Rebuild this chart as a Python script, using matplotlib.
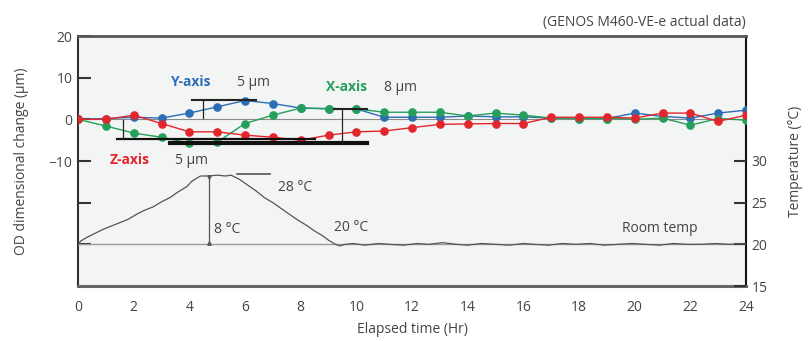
import matplotlib
matplotlib.use("Agg")
import matplotlib.pyplot as plt

plt.rcParams['font.family'] = ['Open Sans', 'DejaVu Sans']

# ---- data ----
hours = list(range(0, 25))
x_axis = [0, -1.6, -3.3, -4.3, -5.7, -5.5, -1.0, 1.0, 2.7, 2.5, 2.5, 1.7, 1.7, 1.7,
          0.8, 1.5, 1.0, 0.3, 0.2, 0.2, 0.0, 0.3, -1.4, 0.2, -0.2]
y_axis = [0, 0.2, 0.5, 0.3, 1.5, 3.0, 4.5, 3.8, 2.7, 2.6, 2.5, 0.5, 0.5, 0.5,
          0.8, 0.6, 0.6, 0.3, 0.2, 0.2, 1.5, 0.7, 0.3, 1.5, 2.2]
z_axis = [0, 0.0, 1.0, -1.0, -3.0, -3.0, -3.8, -4.3, -5.0, -3.8, -3.0, -2.8, -2.0, -1.2,
          -1.1, -1.0, -1.0, 0.5, 0.5, 0.5, 0.3, 1.5, 1.5, -0.5, 1.0]

temp_time = [0, 0.1, 0.3, 0.6, 0.9, 1.2, 1.5, 1.8, 2.1, 2.4, 2.7, 3.0, 3.3, 3.6, 3.9, 4.1,
             4.4, 4.7, 5.0, 5.3, 5.5, 5.8, 6.1, 6.4, 6.7, 7.0, 7.3, 7.6, 7.9, 8.2, 8.5,
             8.8, 9.0, 9.2, 9.4, 9.6, 9.9, 10.3, 10.8, 11.2, 11.7, 12.2, 12.6, 13.1, 13.6,
             14.0, 14.5, 15.0, 15.5, 16.0, 16.4, 16.9, 17.4, 17.9, 18.4, 18.9, 19.4,
             19.9, 20.4, 20.9, 21.4, 21.9, 22.4, 22.9, 23.4, 24.0]
temp_vals = [20.0, 20.4, 20.8, 21.3, 21.8, 22.2, 22.6, 23.0, 23.6, 24.1, 24.5, 25.1, 25.6,
             26.3, 26.9, 27.6, 28.2, 28.2, 28.3, 28.2, 28.3, 27.8, 27.1, 26.4, 25.6, 25.0,
             24.3, 23.6, 22.9, 22.3, 21.6, 21.0, 20.5, 20.1, 19.8, 20.0, 20.1, 19.9, 20.1,
             20.0, 19.9, 20.1, 20.0, 20.2, 20.0, 19.9, 20.1, 20.0, 19.9, 20.1, 20.0, 19.9,
             20.1, 20.0, 20.1, 19.9, 20.0, 20.1, 20.0, 19.9, 20.1, 20.0, 20.0, 20.1, 20.0, 20.1]

x_ticks = list(range(0, 25, 2))
left_ticks = [20, 10, 0, -10, -20, -30]
left_labels = ['20', '10', '0', '\u221210', '', '']
right_ticks = [15, 20, 25, 30]

c_blue = '#2c6db6'
c_green = '#24a05a'
c_red = '#e2262c'
c_text = '#444444'

fig = plt.figure(figsize=(8.08, 3.41), dpi=100)
fig.patch.set_facecolor('white')
ax = fig.add_axes([78 / 808, 1 - 286 / 341, (746 - 78) / 808, (286 - 36) / 341])
ax.set_facecolor('#f3f4f4')
ax.set_xlim(0, 24)
ax.set_ylim(-40, 20)

# reference lines
ax.axhline(0, color='#8a8a8a', lw=0.8, zorder=1)

ms = 5.2
ax.plot(hours, y_axis, '-o', color=c_blue, lw=1.0, ms=ms, zorder=3)
ax.plot(hours, x_axis, '-o', color=c_green, lw=1.0, ms=ms, zorder=3)
ax.plot(hours, z_axis, '-o', color=c_red, lw=1.0, ms=ms, zorder=3)

# range bars
ax.plot([4.1, 6.4], [4.6, 4.6], color='#222222', lw=1.5, zorder=4)
ax.plot([4.5, 4.5], [4.6, 0.3], color='#222222', lw=0.9, zorder=4)
ax.plot([1.4, 8.5], [-4.6, -4.6], color='#111111', lw=1.6, zorder=4)
ax.plot([1.6, 1.6], [-0.2, -4.6], color='#222222', lw=0.9, zorder=4)
ax.plot([3.3, 10.4], [-5.6, -5.6], color='#111111', lw=3.0, zorder=4)
ax.plot([9.2, 10.4], [2.6, 2.6], color='#222222', lw=1.5, zorder=4)
ax.plot([9.5, 9.5], [2.6, -5.6], color='#222222', lw=0.9, zorder=4)

ax.set_xticks(x_ticks)
ax.set_yticks(left_ticks)
ax.set_yticklabels(left_labels)
ax.tick_params(axis='y', direction='in', length=9, width=1.5, colors='#333333',
               labelsize=10, labelcolor=c_text, pad=4)
ax.tick_params(axis='x', length=0, labelsize=10, labelcolor=c_text, pad=10)
ax.set_xlabel('Elapsed time (Hr)', fontsize=10, color=c_text, labelpad=5)
ax.set_ylabel('OD dimensional change (\u00b5m)', fontsize=10, color=c_text, labelpad=14)

for side, col, lw in [('top', '#555555', 2.0), ('bottom', '#666666', 2.2),
                      ('left', '#333333', 1.5), ('right', '#111111', 1.5)]:
    ax.spines[side].set_color(col)
    ax.spines[side].set_linewidth(lw)

# temperature axis
ax2 = ax.twinx()
ax2.set_ylim(15, 45)
ax2.axhline(20, color='#9a9a9a', lw=1.0, zorder=1)
ax2.plot(temp_time, temp_vals, color='#555555', lw=0.9, zorder=2)
ax2.plot([5.7, 6.9], [28.4, 28.4], color='#555555', lw=1.2)
ax2.plot([4.7, 4.7], [28.2, 20.0], color='#555555', lw=0.9)
ax2.plot([4.7], [28.1], marker='v', color='#555555', ms=2.5)
ax2.plot([4.7], [20.1], marker='^', color='#555555', ms=2.5)
ax2.set_yticks(right_ticks)
ax2.tick_params(axis='y', direction='in', length=9, width=1.5, colors='#333333',
                labelsize=10, labelcolor=c_text, pad=4)
ax2.set_ylabel('Temperature (\u00b0C)', fontsize=10, color=c_text, labelpad=15)
for s in ax2.spines.values():
    s.set_visible(False)

# annotations
ax.text(3.3, 8.9, 'Y-axis', color=c_blue, fontsize=10, fontweight='bold', va='center')
ax.text(5.7, 8.9, '5 \u00b5m', color=c_text, fontsize=10, va='center')
ax.text(8.9, 7.7, 'X-axis', color=c_green, fontsize=10, fontweight='bold', va='center')
ax.text(11.0, 7.7, '8 \u00b5m', color=c_text, fontsize=10, va='center')
ax.text(1.15, -9.8, 'Z-axis', color=c_red, fontsize=10, fontweight='bold', va='center')
ax.text(3.5, -9.8, '5 \u00b5m', color=c_text, fontsize=10, va='center')
ax2.text(7.2, 26.8, '28 \u00b0C', color=c_text, fontsize=10, va='center')
ax2.text(4.9, 21.8, '8 \u00b0C', color=c_text, fontsize=10, va='center')
ax2.text(9.2, 22.0, '20 \u00b0C', color=c_text, fontsize=10, va='center')
ax2.text(19.55, 21.9, 'Room temp', color=c_text, fontsize=10, va='center')
ax.text(1.0, 1.025, '(GENOS M460-VE-e actual data)', transform=ax.transAxes,
        ha='right', va='bottom', fontsize=10, color=c_text)

fig.savefig('out.png', dpi=100)
